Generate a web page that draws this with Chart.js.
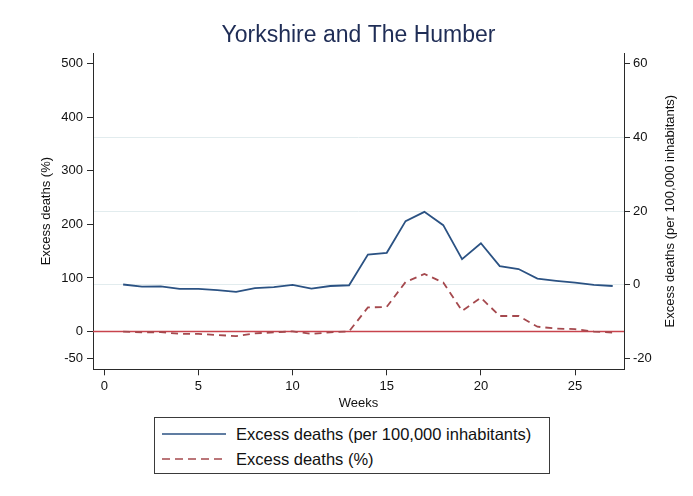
<!DOCTYPE html>
<html>
<head>
<meta charset="utf-8">
<script src="https://cdn.jsdelivr.net/npm/chart.js@4/dist/chart.umd.min.js"></script>
<style>
html,body{margin:0;padding:0;background:#fff;}
#wrap{position:relative;width:693px;height:496px;background:#fff;}
#c{position:absolute;left:0;top:0;}
#legend{position:absolute;left:154px;top:417px;width:396px;height:57px;border:1px solid #3a3a3a;box-sizing:border-box;font-family:"Liberation Sans",Arial,sans-serif;font-size:16.5px;color:#111;background:#fff;}
.lrow{position:absolute;left:0;height:20px;width:100%;}
.lrow svg{position:absolute;left:7px;top:0;}
.lrow span{position:absolute;left:81px;top:0;line-height:20px;white-space:nowrap;}
</style>
</head>
<body>
<div id="wrap">
<canvas id="c" width="693" height="496"></canvas>
<div id="legend"></div>
</div>
<script>
// ---- data ----
const chartTitle = "Yorkshire and The Humber";
const xTitle = "Weeks";
const leftTitle = "Excess deaths (%)";
const rightTitle = "Excess deaths (per 100,000 inhabitants)";
const seriesNames = ["Excess deaths (per 100,000 inhabitants)", "Excess deaths (%)"];
const weeks = [1,2,3,4,5,6,7,8,9,10,11,12,13,14,15,16,17,18,19,20,21,22,23,24,25,26,27];
const excessPer100k = [0.1,-0.5,-0.4,-1.1,-1.1,-1.4,-1.9,-0.9,-0.6,0.0,-1.0,-0.3,-0.1,8.2,8.7,17.3,19.8,16.2,7.0,11.3,5.1,4.3,1.7,1.1,0.6,0.0,-0.3];
const excessPct = [0,-1.5,-1.2,-4.3,-4.3,-6.5,-8.5,-3.5,-1.5,0.3,-4.3,-1.5,0.3,45,46,92.5,107.5,91.5,38.5,63,29,29,9,5.5,4.5,0,-2];
const xTicks = [0,5,10,15,20,25];
const leftTicks = [-50,0,100,200,300,400,500];
const rightTicks = [-20,0,20,40,60];
const rightGridValues = [0,20,40];
const refLineValue = 0;

// ---- styles ----
const FONT = '"Liberation Sans", Arial, Helvetica, sans-serif';
const colors = ['#2b5283', '#a5494e'];
const dashes = [[], [7,5]];
Chart.defaults.font.family = FONT;
Chart.defaults.color = '#111';

const refLinePlugin = {
  id: 'refLine',
  beforeDatasetsDraw(chart) {
    const {ctx, chartArea, scales} = chart;
    const y = scales.y.getPixelForValue(refLineValue);
    ctx.save();
    ctx.strokeStyle = '#c8434d';
    ctx.lineWidth = 1.5;
    ctx.beginPath();
    ctx.moveTo(chartArea.left, y);
    ctx.lineTo(chartArea.right, y);
    ctx.stroke();
    ctx.restore();
  }
};
const rightTitlePlugin = {
  id: 'rightTitle',
  afterDraw(chart) {
    const {ctx, chartArea} = chart;
    ctx.save();
    ctx.translate(670, (chartArea.top + chartArea.bottom) / 2);
    ctx.rotate(-Math.PI / 2);
    ctx.textAlign = 'center';
    ctx.textBaseline = 'middle';
    ctx.fillStyle = '#111';
    ctx.font = '13px ' + FONT;
    ctx.fillText(rightTitle, 0, 0);
    ctx.restore();
  }
};

const axisColor = '#2a2a2a';
new Chart(document.getElementById('c'), {
  type: 'line',
  data: {
    datasets: [
      { label: seriesNames[0], data: weeks.map((w,i)=>({x:w, y:excessPer100k[i]})), yAxisID: 'y1',
        borderColor: colors[0], borderWidth: 1.8, borderDash: dashes[0], pointRadius: 0, tension: 0, fill: false },
      { label: seriesNames[1], data: weeks.map((w,i)=>({x:w, y:excessPct[i]})), yAxisID: 'y',
        borderColor: colors[1], borderWidth: 1.8, borderDash: dashes[1], pointRadius: 0, tension: 0, fill: false }
    ]
  },
  options: {
    responsive: false, animation: false, devicePixelRatio: 1,
    layout: { padding: { left: 0, right: 0, top: 0, bottom: 81.7 } },
    plugins: {
      legend: { display: false },
      tooltip: { enabled: false },
      title: { display: true, text: chartTitle, fullSize: false, color: '#1f2d56',
        font: { size: 23, weight: 'normal' }, padding: { top: 21.7, bottom: 3.7 } }
    },
    scales: {
      x: {
        type: 'linear', position: 'bottom', min: -0.6, max: 27.6,
        afterBuildTicks: s => { s.ticks = xTicks.map(v => ({ value: v })); },
        afterFit: s => { s.height = 45; },
        grid: { drawOnChartArea: false, drawTicks: true, tickLength: 6, color: axisColor },
        border: { display: true, color: axisColor, width: 1 },
        ticks: { color: '#111', font: { size: 13 }, padding: 3, maxRotation: 0, autoSkip: false },
        title: { display: true, text: xTitle, color: '#111', font: { size: 13 }, padding: { top: 0, bottom: 3.5 } }
      },
      y: {
        type: 'linear', position: 'left', min: -70.5, max: 520,
        afterBuildTicks: s => { s.ticks = leftTicks.map(v => ({ value: v })); },
        afterFit: s => { s.width = 93; },
        grid: { drawOnChartArea: false, drawTicks: true, tickLength: 6, color: axisColor },
        border: { display: true, color: axisColor, width: 1 },
        ticks: { color: '#111', font: { size: 13 }, padding: 4, autoSkip: false },
        title: { display: true, text: leftTitle, color: '#111', font: { size: 13 }, padding: { top: 39, bottom: 0 } }
      },
      y1: {
        type: 'linear', position: 'right', min: -22.9, max: 62.9,
        afterBuildTicks: s => { s.ticks = rightTicks.map(v => ({ value: v })); },
        afterFit: s => { s.width = 69; },
        grid: { drawOnChartArea: true, drawTicks: true, tickLength: 6,
          color: c => (c.tick && rightGridValues.includes(c.tick.value)) ? '#e2ecee' : 'rgba(0,0,0,0)',
          tickColor: axisColor },
        border: { display: true, color: axisColor, width: 1 },
        ticks: { color: '#111', font: { size: 13 }, padding: 3, autoSkip: false }
      }
    }
  },
  plugins: [refLinePlugin, rightTitlePlugin]
});

// ---- HTML legend ----
const legend = document.getElementById('legend');
const rowTops = [6, 31];
seriesNames.forEach((name, i) => {
  const row = document.createElement('div');
  row.className = 'lrow';
  row.style.top = rowTops[i] + 'px';
  const svgNS = 'http://www.w3.org/2000/svg';
  const svg = document.createElementNS(svgNS, 'svg');
  svg.setAttribute('width', '64'); svg.setAttribute('height', '20');
  const ln = document.createElementNS(svgNS, 'line');
  ln.setAttribute('x1', '0'); ln.setAttribute('x2', '64');
  ln.setAttribute('y1', '10'); ln.setAttribute('y2', '10');
  ln.setAttribute('stroke', colors[i]); ln.setAttribute('stroke-width', '1.6');
  if (dashes[i].length) ln.setAttribute('stroke-dasharray', '8 5');
  svg.appendChild(ln);
  const sp = document.createElement('span');
  sp.textContent = name;
  row.appendChild(svg); row.appendChild(sp);
  legend.appendChild(row);
});
</script>
</body>
</html>
